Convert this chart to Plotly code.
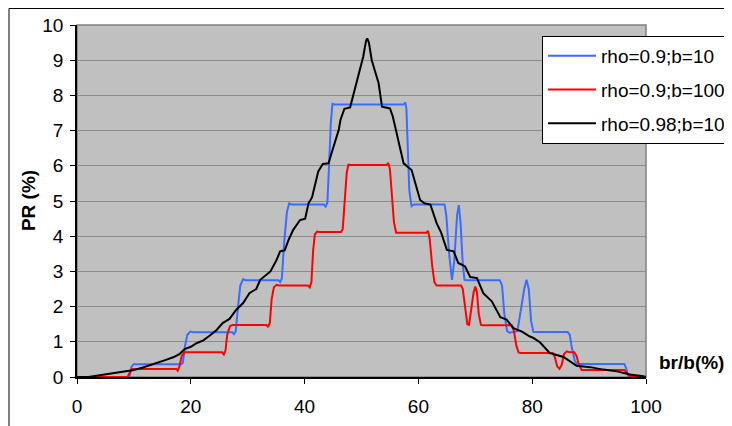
import plotly.graph_objects as go

# ---- data ----
blue_x = [0, 9.2, 9.6, 10.0, 10.4, 18.3, 18.6, 19.0, 19.4, 19.9, 20.4, 27.3, 27.6, 27.9, 28.3, 28.7, 29.2, 29.6,
          35.4, 35.7, 36.0, 36.4, 36.9, 37.3, 37.7, 43.4, 43.7, 44.0, 44.3, 44.6, 44.9, 45.3, 57.4, 57.7, 57.9,
          58.1, 58.4, 58.8, 59.2, 64.6, 64.9, 65.4, 65.9, 66.3, 66.8, 67.1, 67.4, 67.8, 68.1, 68.5, 74.3, 74.7,
          75.1, 75.6, 76.0, 77.4, 78.0, 78.6, 79.0, 79.4, 79.8, 80.2, 80.8, 86.2, 86.6, 87.0, 87.5, 87.9, 96.2,
          96.5, 96.9, 100]
blue_y = [0, 0, 0.3, 0.37, 0.36, 0.36, 0.4, 0.9, 1.2, 1.29, 1.27, 1.27, 1.22, 1.3, 2.0, 2.6, 2.78, 2.75,
          2.75, 2.7, 2.8, 3.8, 4.7, 4.93, 4.9, 4.9, 4.84, 4.95, 6.0, 7.2, 7.76, 7.74, 7.74, 7.8, 7.6,
          6.5, 5.3, 4.85, 4.9, 4.9, 4.6, 3.5, 2.76, 3.3, 4.6, 4.88, 4.4, 3.2, 2.76, 2.75, 2.75, 2.6,
          1.8, 1.3, 1.26, 1.3, 1.9, 2.5, 2.76, 2.5, 1.6, 1.28, 1.28, 1.28, 1.2, 0.8, 0.45, 0.37, 0.37,
          0.25, 0.02, 0]

red_x = [0, 8.9, 9.2, 9.6, 10.0, 17.4, 17.7, 18.0, 18.4, 18.9, 19.3, 25.5, 25.8, 26.1, 26.4, 26.9, 27.4,
         33.3, 33.6, 33.9, 34.2, 34.6, 35.1, 35.5, 40.6, 40.9, 41.2, 41.5, 41.8, 42.2, 42.6, 46.4, 46.7,
         47.0, 47.4, 47.7, 48.1, 54.4, 54.7, 55.0, 55.3, 55.7, 56.1, 56.5, 61.4, 61.7, 62.0, 62.4, 62.8,
         63.2, 63.6, 67.5, 67.8, 68.2, 68.6, 68.9, 69.3, 69.7, 70.0, 70.3, 70.6, 71.0, 71.4, 76.4, 76.8,
         77.2, 77.6, 78.0, 83.6, 84.0, 84.4, 84.8, 85.2, 85.6, 86.1, 86.6, 87.4, 87.8, 88.2, 88.7, 89.2,
         96.2, 96.6, 97.2, 100]
red_y = [0, 0, 0.1, 0.22, 0.23, 0.23, 0.18, 0.3, 0.6, 0.7, 0.7, 0.7, 0.64, 0.75, 1.2, 1.45, 1.48,
         1.48, 1.42, 1.55, 2.2, 2.55, 2.62, 2.6, 2.6, 2.55, 2.7, 3.6, 4.05, 4.13, 4.12, 4.12, 4.2,
         4.8, 5.8, 6.03, 6.02, 6.02, 6.08, 5.9, 5.2, 4.4, 4.1, 4.1, 4.1, 4.15, 3.9, 3.2, 2.7,
         2.6, 2.6, 2.6, 2.5, 1.9, 1.5, 1.48, 1.9, 2.4, 2.57, 2.4, 1.8, 1.48, 1.47, 1.47, 1.3,
         0.9, 0.7, 0.68, 0.68, 0.55, 0.3, 0.23, 0.35, 0.65, 0.73, 0.7, 0.7, 0.6, 0.35, 0.2, 0.2,
         0.2, 0.12, 0.02, 0]

black_x = [0, 2, 4.0, 5.7, 7, 8.7, 10, 11.6, 13, 14.2, 15.5, 16.9, 18, 18.9, 20, 21.0, 22.2, 23.3, 24.5,
           25.6, 26.8, 28.0, 29.2, 30.3, 31.5, 32.2, 33.0, 34.0, 35.0, 35.7, 36.5, 37.2, 38.0, 39.2, 40.1,
           40.7, 41.3, 42.4, 43.2, 44.2, 45.0, 46.0, 46.3, 47.0, 48.0, 49.2, 50.3, 50.8, 51.0, 51.3, 51.8,
           53.0, 53.6, 55.0, 55.5, 56.5, 57.4, 58.8, 59.5, 60.3, 61.0, 62.1, 63.2, 64.0, 65.0, 66.2, 67.0,
           68.2, 69.1, 70.3, 71.4, 72.9, 74.4, 75.5, 76.7, 78.2, 79.6, 80.2, 81.4, 83.1, 85.5, 87.8, 90.2,
           92.5, 94.9, 97.2, 99.5, 100]
black_y = [0, 0, 0.05, 0.09, 0.12, 0.16, 0.2, 0.27, 0.34, 0.40, 0.48, 0.56, 0.65, 0.79, 0.86, 0.96, 1.04,
           1.17, 1.33, 1.53, 1.65, 1.91, 2.1, 2.38, 2.5, 2.76, 2.86, 3.0, 3.3, 3.57, 3.6, 3.9, 4.18, 4.46,
           4.5, 4.94, 5.1, 5.84, 6.05, 6.07, 6.5, 7.02, 7.3, 7.62, 7.66, 8.44, 9.10, 9.55, 9.62, 9.5, 9.0,
           8.35, 7.68, 7.63, 7.4, 6.7, 6.07, 5.88, 5.5, 5.03, 4.94, 4.9, 4.37, 4.1, 3.61, 3.57, 3.24,
           3.14, 2.84, 2.81, 2.38, 2.15, 1.70, 1.63, 1.39, 1.29, 1.15, 1.11, 0.98, 0.68, 0.57, 0.32, 0.28,
           0.21, 0.16, 0.07, 0.02, 0]

series_names = ["rho=0.9;b=10", "rho=0.9;b=100", "rho=0.98;b=10"]
x_ticks = [0, 20, 40, 60, 80, 100]
y_ticks = list(range(0, 11))

FONT = "Arial, Liberation Sans, sans-serif"

fig = go.Figure()
for xs, ys, name, col, grp in [(blue_x, blue_y, series_names[0], "#3A6CFF", "a"),
                               (red_x, red_y, series_names[1], "#FF0000", "b"),
                               (black_x, black_y, series_names[2], "#000000", "c")]:
    fig.add_trace(go.Scatter(x=xs, y=ys, mode="lines", name=name, legendgroup=grp,
                             line=dict(color=col, width=2)))

# outer chart frame
fig.add_shape(type="rect", xref="paper", yref="paper", x0=-0.1195, x1=1.2, y0=-0.25, y1=1.0469,
              line=dict(color="black", width=1), fillcolor="rgba(0,0,0,0)", layer="below")
# plot area border (gray)
fig.add_shape(type="rect", xref="paper", yref="paper", x0=0, x1=1, y0=0, y1=1,
              line=dict(color="#808080", width=1.5), fillcolor="rgba(0,0,0,0)", layer="below")

fig.add_annotation(text="<b>PR (%)</b>", xref="paper", yref="paper", x=-0.086, y=0.5,
                   xanchor="center", yanchor="middle",
                   textangle=-90, showarrow=False, font=dict(family=FONT, size=19, color="black"))
fig.add_annotation(text="<b>br/b(%)</b>", xref="paper", yref="paper", x=1.019, y=0.04,
                   xanchor="left", yanchor="middle", showarrow=False,
                   font=dict(family=FONT, size=19, color="black"))

fig.update_layout(
    width=724, height=418,
    margin=dict(l=69, r=86, t=17, b=49, autoexpand=False),
    paper_bgcolor="white", plot_bgcolor="#C0C0C0",
    font=dict(family=FONT, size=19, color="black"),
    showlegend=True,
    legend=dict(xref="container", yref="container", x=0.7376, y=0.933, xanchor="left", yanchor="top",
                bgcolor="white", bordercolor="black", borderwidth=1,
                font=dict(family=FONT, size=19, color="black"),
                traceorder="grouped", tracegroupgap=6, itemwidth=48),
    xaxis=dict(range=[0, 100], tickvals=x_ticks, showgrid=False, zeroline=False,
               showline=True, linecolor="black", linewidth=1.5, ticks="outside", ticklen=5,
               tickcolor="black", ticklabelstandoff=6,
               tickfont=dict(family=FONT, size=19, color="black")),
    yaxis=dict(range=[0, 10], tickvals=y_ticks, showgrid=True, gridcolor="#8C8C8C", gridwidth=1.2,
               zeroline=False, showline=True, linecolor="black", linewidth=1.5, ticks="outside",
               ticklen=5, tickcolor="black", ticklabelstandoff=3,
               tickfont=dict(family=FONT, size=19, color="black")),
)

fig.write_html("out.html")
